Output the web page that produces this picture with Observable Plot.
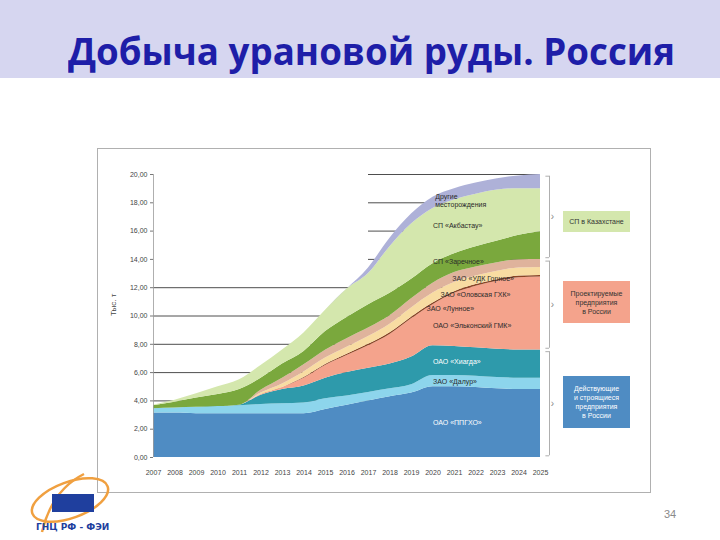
<!DOCTYPE html>
<html>
<head>
<meta charset="utf-8">
<script src="https://cdn.jsdelivr.net/npm/d3@7"></script>
<script src="https://cdn.jsdelivr.net/npm/@observablehq/plot@0.6"></script>
<style>
  html, body { margin: 0; padding: 0; }
  body { width: 720px; height: 540px; position: relative; overflow: hidden; background: #fff;
         font-family: "Liberation Sans", Arial, sans-serif; }
  #header { position: absolute; left: 0; top: 0; width: 720px; height: 78px; background: #d6d6f0; }
  #title { position: absolute; left: 68px; top: 26px; white-space: nowrap; font-family: "Open Sans", sans-serif;
           font-weight: 700; font-size: 38px; line-height: 48px; color: #1e1ea8; transform-origin: 0 0; }
  #frame { position: absolute; left: 97px; top: 148px; width: 552px; height: 343px; border: 1px solid #b0b0b0; }
  #chart { position: absolute; left: 97px; top: 148px; }
  .box { position: absolute; left: 563px; width: 67px; display: flex; align-items: center; justify-content: center;
         text-align: center; font-size: 7px; line-height: 9px; color: #333; }
  #page { position: absolute; left: 664px; top: 508px; font-size: 11px; color: #8a8a8a; }
  #logo { position: absolute; left: 22px; top: 470px; }
</style>
</head>
<body>
<div id="header"><div id="title">Добыча урановой руды. Россия</div></div>
<div id="frame"></div>
<div id="chart"></div>
<div class="box" style="top:211px;height:21px;background:#d4e7ad;">СП в Казахстане</div>
<div class="box" style="top:281px;height:42px;background:#f4a38c;">Проектируемые<br>предприятия<br>в России</div>
<div class="box" style="top:376px;height:52px;background:#4f8cc3;color:#fff;">Действующие<br>и строящиеся<br>предприятия<br>в России</div>
<div id="page">34</div>
<svg id="logo" width="140" height="70">
  <ellipse cx="48" cy="30" rx="40" ry="18" fill="none" stroke="#f0a040" stroke-width="2.5" transform="rotate(-20 48 30)"/>
  <path d="M20 62 Q30 20 62 4" fill="none" stroke="#f0a040" stroke-width="2.5"/>
  <rect x="30" y="24" width="42" height="18" fill="#1f3f9e"/>
  <text x="14" y="60" font-family="DejaVu Sans" font-weight="700" font-size="9" fill="#1f3f9e">ГНЦ РФ - ФЭИ</text>
</svg>
<script>
// ---- data (тыс. т) ----
const years = [2007, 2008, 2009, 2010, 2011, 2012, 2013, 2014, 2015, 2016, 2017, 2018, 2019, 2020, 2021, 2022, 2023, 2024, 2025];
const names = ["ОАО «ППГХО»", "ЗАО «Далур»", "ОАО «Хиагда»", "ОАО «Эльконский ГМК»", "ЗАО «Лунное»",
               "ЗАО «Оловская ГХК»", "ЗАО «УДК Горное»", "СП «Заречное»", "СП «Акбастау»", "Другие месторождения"];
const ppgho     = [3.15, 3.15, 3.1, 3.1, 3.1, 3.1, 3.1, 3.1, 3.4, 3.7, 4.0, 4.3, 4.55, 5.0, 5.0, 4.95, 4.85, 4.8, 4.8];
const dalur     = [0.3, 0.35, 0.45, 0.5, 0.55, 0.65, 0.7, 0.75, 0.75, 0.65, 0.6, 0.55, 0.6, 0.8, 0.8, 0.8, 0.8, 0.8, 0.8];
const khiagda   = [0, 0, 0, 0, 0.05, 0.65, 1.0, 1.2, 1.45, 1.65, 1.7, 1.75, 1.95, 2.1, 2.05, 2.0, 2.0, 2.0, 2.0];
const elkon     = [0, 0, 0, 0, 0, 0.05, 0.15, 0.55, 0.9, 1.2, 1.6, 2.1, 2.7, 2.9, 3.75, 4.35, 4.8, 5.1, 5.15];
const lunnoe    = [0, 0, 0, 0, 0, 0, 0, 0.05, 0.08, 0.1, 0.1, 0.12, 0.12, 0.12, 0.12, 0.12, 0.12, 0.12, 0.12];
const olovskaya = [0, 0, 0, 0, 0, 0.1, 0.25, 0.4, 0.45, 0.5, 0.55, 0.6, 0.65, 0.7, 0.65, 0.6, 0.6, 0.58, 0.56];
const udk       = [0, 0, 0, 0, 0, 0.2, 0.4, 0.5, 0.55, 0.6, 0.6, 0.6, 0.65, 0.7, 0.7, 0.65, 0.6, 0.58, 0.57];
const zarechnoe = [0.2, 0.4, 0.65, 0.85, 1.1, 0.85, 1.0, 0.95, 1.32, 1.5, 1.65, 1.58, 1.38, 1.38, 1.33, 1.43, 1.53, 1.72, 1.95];
const akbastau  = [0.05, 0.15, 0.3, 0.55, 0.7, 0.9, 1.0, 1.3, 1.5, 2.0, 2.2, 3.3, 3.9, 3.9, 3.8, 3.7, 3.6, 3.3, 3.05];
const drugie    = [0, 0, 0, 0, 0, 0, 0, 0, 0, 0, 0.4, 0.6, 0.7, 0.8, 0.8, 0.8, 0.8, 0.9, 1.0];
const yTicks = [0, 2, 4, 6, 8, 10, 12, 14, 16, 18, 20];
const labelTexts = ["ОАО «ППГХО»", "ЗАО «Далур»", "ОАО «Хиагда»", "ОАО «Эльконский ГМК»", "ЗАО «Лунное»",
                    "ЗАО «Оловская ГХК»", "ЗАО «УДК Горное»", "СП «Заречное»", "СП «Акбастау»", "Другие\nместорождения"];
// groups shown on the right (indices of layers, bottom..top)
const groups = [[0, 2], [3, 6], [7, 9]];

const colors = ["#4f8cc3", "#8dd5ec", "#2e9aab", "#f4a38c", "#8a4526", "#f8dca2", "#dfb39c", "#7aa83d", "#d4e7ad", "#aeb1d8"];
const series = [ppgho, dalur, khiagda, elkon, lunnoe, olovskaya, udk, zarechnoe, akbastau, drugie];

const rows = [];
series.forEach((s, i) => s.forEach((v, j) => rows.push({year: years[j], name: names[i], value: v})));

// layer bottom/top at a (fractional) year
function band(i, t) {
  const j = Math.max(0, Math.min(years.length - 2, Math.floor(t - years[0])));
  const f = t - years[j];
  const at = k => { let b = 0; for (let m = 0; m < i; m++) b += series[m][k]; return [b, b + series[i][k]]; };
  const a = at(j), c = at(j + 1);
  return [a[0] * (1 - f) + c[0] * f, a[1] * (1 - f) + c[1] * f];
}
const last = years.length - 1;
const labelStart = [2020, 2020, 2020, 2020, 2019.7, 2020.35, 2020.9, 2020, 2020, 2020.1];
const labelAt    = [2021.3, 2021.1, 2021.2, 2020, 2019.7, 2020.35, 2020.9, 2021.3, 2021.3, 2020.3];
const labels = labelTexts.map((t, i) => {
  const [b, tp] = band(i, labelAt[i]);
  return {text: t, x: labelStart[i], y: (b + tp) / 2, white: i === 0 || i === 2};
});
const groupRows = groups.map(([a, b]) => {
  const lo = band(a, years[last])[0], hi = band(b, years[last])[1];
  return {lo: lo + 0.12, hi: hi - 0.12, mid: (lo + hi) / 2};
});

const chart = Plot.plot({
  width: 553, height: 344,
  marginLeft: 56, marginRight: 110, marginTop: 26, marginBottom: 35,
  style: {fontFamily: "Liberation Sans, Arial, sans-serif", fontSize: "7px", color: "#444", background: "transparent", overflow: "visible"},
  x: {domain: [years[0], years[last]], label: null},
  y: {domain: [0, 20], label: null},
  color: {domain: names, range: colors},
  marks: [
    Plot.ruleY(yTicks.filter(v => v > 0), {y: d => d, x1: d => d >= 14 ? 2017 : years[0], x2: years[last], stroke: "#3a3a3a", strokeWidth: 0.9}),
    Plot.areaY(rows, {x: "year", y: "value", fill: "name", order: names, curve: "monotone-x"}),
    Plot.ruleX([years[0]], {y1: 0, y2: 20, stroke: "#9a9a9a", strokeWidth: 0.8}),
    Plot.axisY({ticks: yTicks, tickFormat: d => d.toFixed(2).replace(".", ","), tickSize: 3, tickPadding: 3, stroke: "#777", fontSize: 7}),
    Plot.axisX({ticks: years, tickFormat: d => String(d), tickSize: 0, tickPadding: 13, fontSize: 7}),
    Plot.text(["Тыс. т"], {frameAnchor: "left", dx: -40, rotate: -90, fontSize: 8, fill: "#444"}),
    Plot.text(labels, {x: "x", y: "y", text: "text", textAnchor: "start", fontSize: 7, lineHeight: 1.25,
                       fill: d => d.white ? "#ffffff" : "#2a2a2a"}),
    Plot.ruleX(groupRows, {x: years[last], y1: "lo", y2: "hi", dx: 9, stroke: "#9a9a9a", strokeWidth: 0.8}),
    Plot.ruleY(groupRows.flatMap(g => [g.lo, g.hi]), {y: d => d, x1: years[last] + 0.25, x2: years[last] + 0.42, stroke: "#9a9a9a", strokeWidth: 0.8}),
    Plot.text(groupRows, {x: years[last], y: "mid", text: () => "›", dx: 12, fontSize: 10, fill: "#888"})
  ]
});
document.getElementById("chart").appendChild(chart);

// fit title width to the slide's title span
const title = document.getElementById("title");
const w = title.getBoundingClientRect().width;
title.style.transform = `scaleX(${607 / w})`;
</script>
</body>
</html>
